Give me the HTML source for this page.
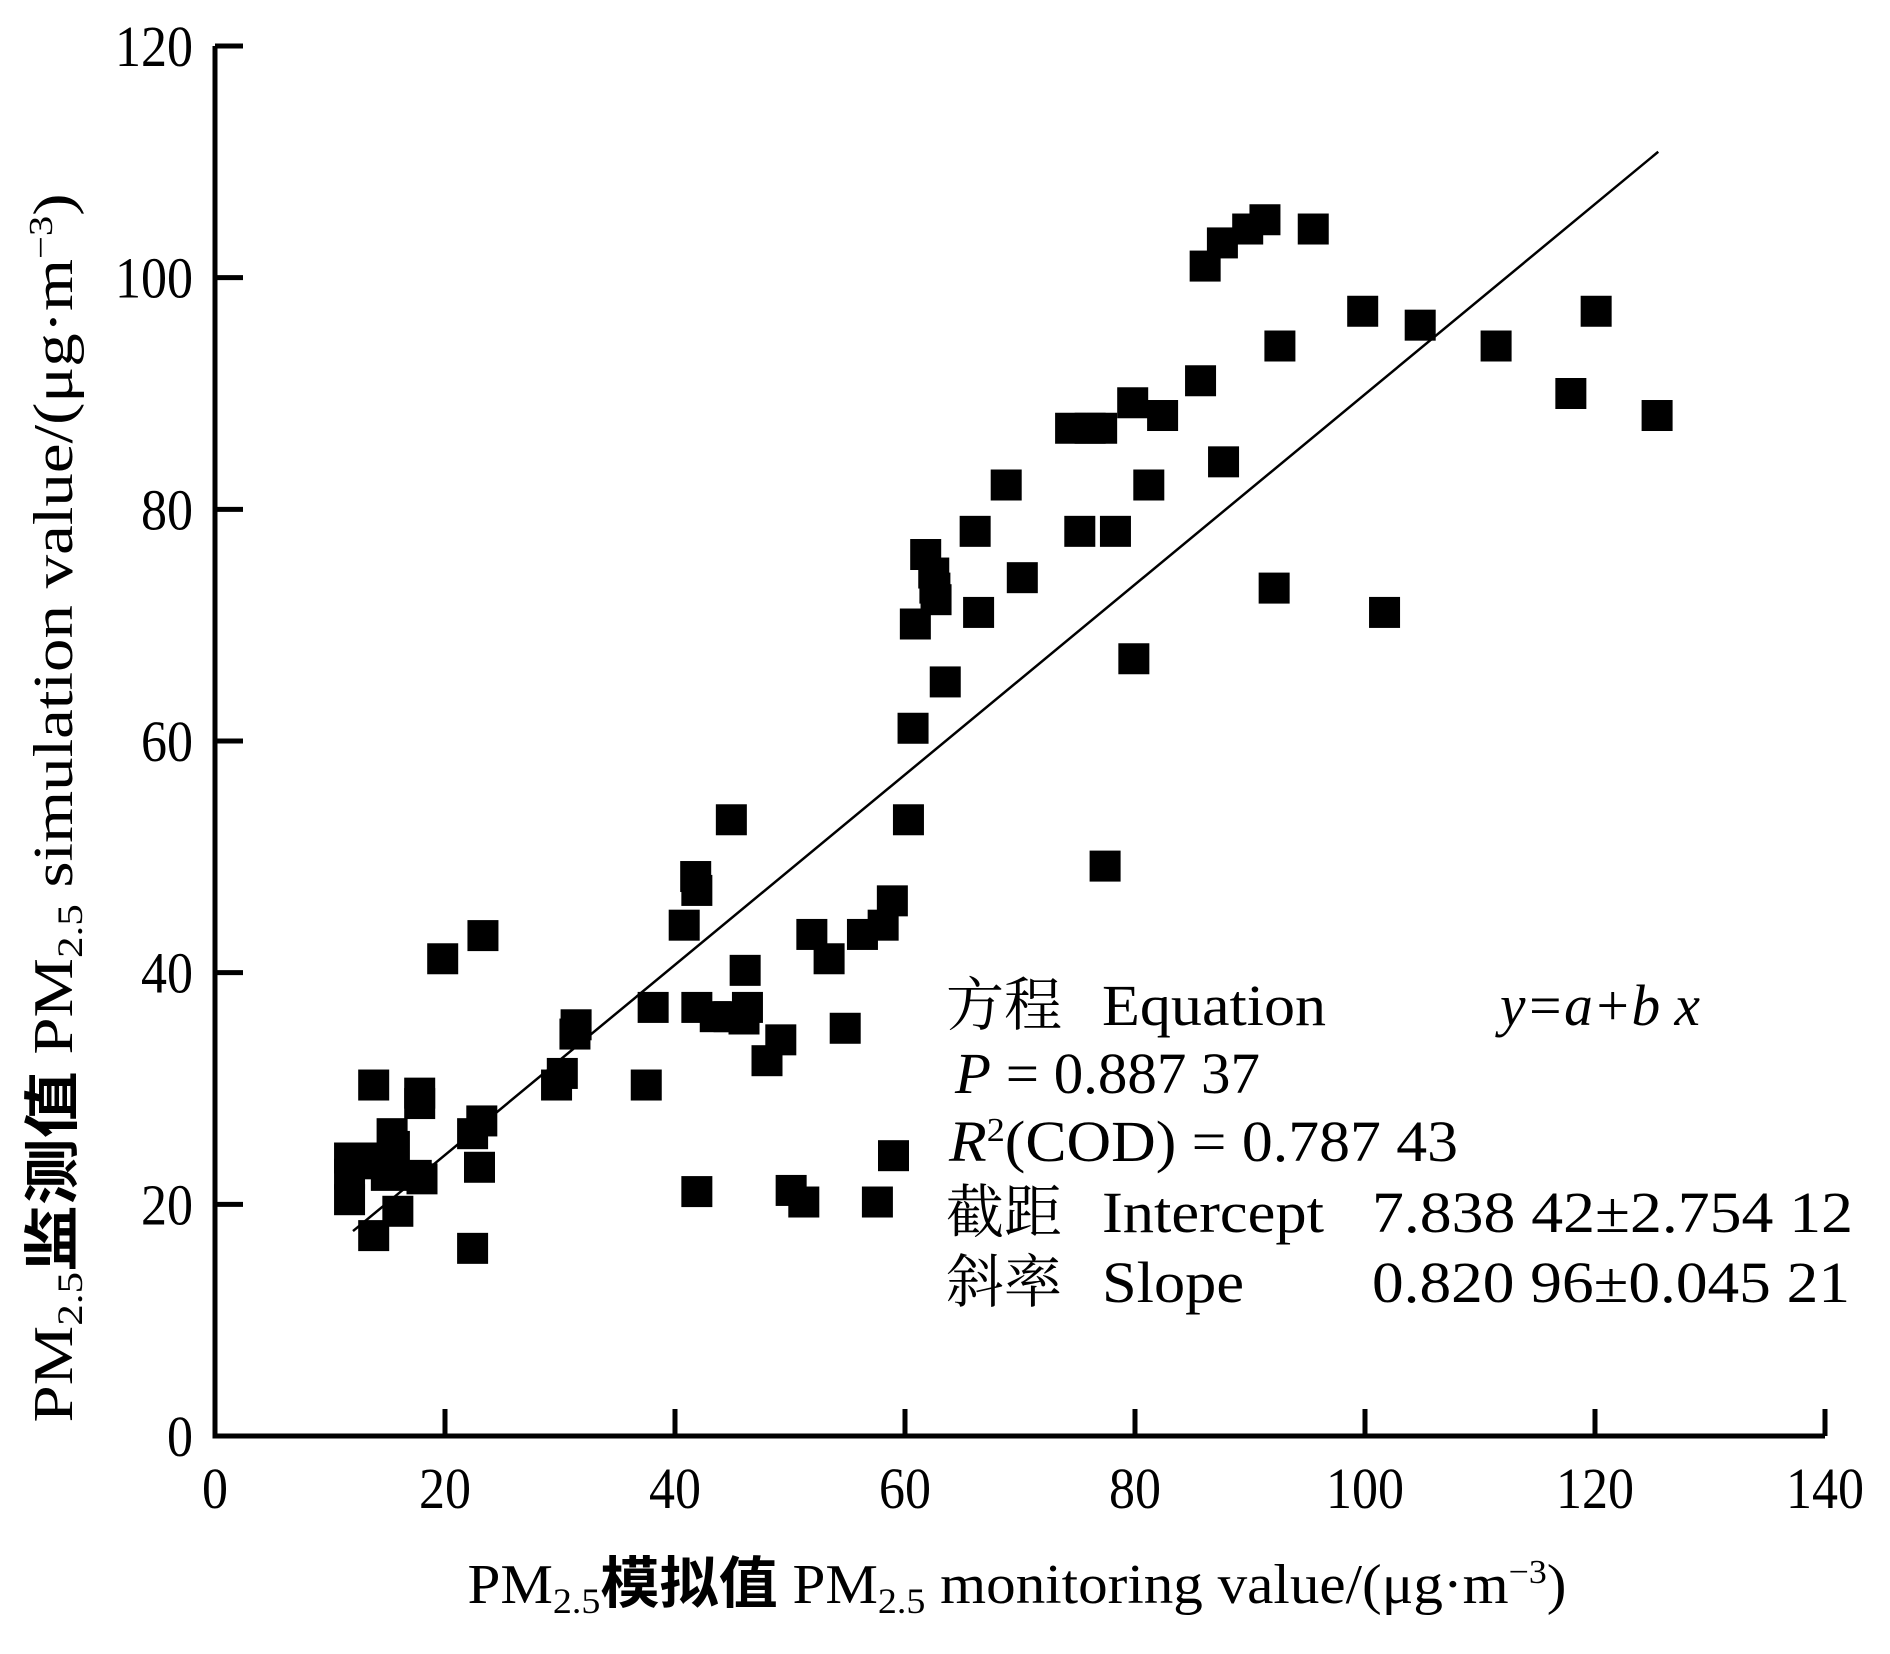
<!DOCTYPE html>
<html><head><meta charset="utf-8"><style>
html,body{margin:0;padding:0;background:#fff;}
svg{display:block;font-family:"Liberation Serif","Noto Serif CJK SC",serif;}
</style></head><body>
<svg id="chart" width="1890" height="1654" viewBox="0 0 1890 1654" xmlns="http://www.w3.org/2000/svg">
<g id="axes"></g>
<g id="points"></g>
<g id="fit"></g>
<g transform="translate(72,808) rotate(-90)">
<text x="0" y="0" text-anchor="middle" font-size="56" textLength="1229" lengthAdjust="spacingAndGlyphs">PM<tspan font-size="36" dy="10">2.5</tspan><tspan dy="-10" font-family="Noto Sans CJK SC, sans-serif" font-weight="bold">监测值</tspan>  PM<tspan font-size="36" dy="10">2.5</tspan><tspan dy="-10"> simulation value/(μg·m</tspan><tspan font-size="34" dy="-20">−3</tspan><tspan dy="20">)</tspan></text>
</g>
<g>
<text x="1017" y="1603" text-anchor="middle" font-size="56" textLength="1099" lengthAdjust="spacingAndGlyphs">PM<tspan font-size="36" dy="10">2.5</tspan><tspan dy="-10" font-family="Noto Sans CJK SC, sans-serif" font-weight="bold">模拟值</tspan>  PM<tspan font-size="36" dy="10">2.5</tspan><tspan dy="-10"> monitoring value/(μg·m</tspan><tspan font-size="34" dy="-20">−3</tspan><tspan dy="20">)</tspan></text>
</g>
<g font-size="58">
<text x="946" y="1025" font-family="Noto Serif CJK SC, serif">方程</text>
<text x="1102" y="1025" textLength="224" lengthAdjust="spacingAndGlyphs">Equation</text>
<text x="1500" y="1025" font-style="italic" textLength="200" lengthAdjust="spacingAndGlyphs">y=a+b x</text>
<text x="955" y="1093" textLength="305" lengthAdjust="spacingAndGlyphs"><tspan font-style="italic">P</tspan> = 0.887 37</text>
<text x="949" y="1161" textLength="509" lengthAdjust="spacingAndGlyphs"><tspan font-style="italic">R</tspan><tspan font-size="34" dy="-20">2</tspan><tspan dy="20">(COD) = 0.787 43</tspan></text>
<text x="946" y="1232" font-family="Noto Serif CJK SC, serif">截距</text>
<text x="1102" y="1232" textLength="222" lengthAdjust="spacingAndGlyphs">Intercept</text>
<text x="1372" y="1232" textLength="481" lengthAdjust="spacingAndGlyphs">7.838 42±2.754 12</text>
<text x="946" y="1302" font-family="Noto Serif CJK SC, serif">斜率</text>
<text x="1102" y="1302" textLength="142" lengthAdjust="spacingAndGlyphs">Slope</text>
<text x="1372" y="1302" textLength="478" lengthAdjust="spacingAndGlyphs">0.820 96±0.045 21</text>
</g>
</svg>
<script>
const xTicks=[0,20,40,60,80,100,120,140];
const yTicks=[0,20,40,60,80,100,120];
const obsX=[11.7,11.7,11.7,12.4,13.8,13.8,13.3,14.9,15.4,15.6,15.9,14.9,17.5,17.8,17.8,18.0,19.8,23.3,22.4,23.2,23.0,22.4,29.7,30.2,31.3,31.4,37.5,38.1,40.8,41.8,41.9,41.9,41.9,43.5,44.7,44.9,46.1,46.3,46.0,48.0,49.2,50.1,51.2,51.9,53.4,54.8,56.3,57.6,58.1,58.9,59.0,60.3,60.7,60.9,61.8,62.5,62.6,62.7,63.5,66.1,66.4,68.8,70.2,74.4,75.2,76.1,77.1,77.4,78.3,79.8,79.9,81.2,82.4,85.7,86.1,87.6,87.7,89.8,91.3,92.1,92.6,95.5,99.8,101.7,104.8,111.4,117.9,120.1,125.4];
const obsY=[24.0,22.6,20.4,23.5,30.3,17.3,24.0,23.5,26.1,25.0,19.4,22.5,22.5,28.7,29.6,22.2,41.2,43.2,26.1,27.2,23.2,16.2,30.3,31.3,34.7,35.5,30.3,37.0,44.1,48.3,47.1,37.0,21.1,36.2,36.2,53.2,40.2,37.0,36.0,32.4,34.2,21.2,20.2,43.3,41.2,35.2,43.3,20.2,44.1,46.2,24.2,53.2,61.1,70.1,76.1,74.5,73.2,72.2,65.1,78.1,71.1,82.1,74.1,87.0,78.1,87.0,87.0,49.2,78.1,89.2,67.1,82.1,88.1,91.1,101.0,103.0,84.1,104.2,105.0,73.2,94.1,104.2,97.1,71.1,95.9,94.1,90.0,97.1,88.1];
const intercept=7.83842, slope=0.82096;
const fitRange=[12,125.5];

const NS='http://www.w3.org/2000/svg';
const X0=215,X1=1825,Y0=1436,Y1=46;
const sx=v=>X0+(v-0)/140*(X1-X0);
const sy=v=>Y0-(v-0)/120*(Y0-Y1);
function mk(tag,attrs,parent){const e=document.createElementNS(NS,tag);for(const k in attrs)e.setAttribute(k,attrs[k]);parent.appendChild(e);return e;}
const axes=document.getElementById('axes');
let a=mk('path',{d:`M${X0} ${Y1} V${Y0} H${X1}`,fill:'none',stroke:'#000','stroke-width':5,'stroke-linejoin':'miter'},axes);


xTicks.forEach(t=>{
  const l=mk('line',{x1:sx(t),x2:sx(t),y1:Y0,y2:Y0-27,stroke:'#000','stroke-width':5},axes);
  
  
  const s=String(t);
  const tx=mk('text',{x:sx(t),y:Y0+72,'text-anchor':'middle','font-size':58,textLength:s.length*26,lengthAdjust:'spacingAndGlyphs'},axes);
  tx.textContent=s;
  
  
});
yTicks.forEach(t=>{
  const l=mk('line',{x1:X0,x2:X0+28,y1:sy(t),y2:sy(t),stroke:'#000','stroke-width':5},axes);
  
  
  const s=String(t);
  const tx=mk('text',{x:193,y:sy(t)+20,'text-anchor':'end','font-size':58,textLength:s.length*26,lengthAdjust:'spacingAndGlyphs'},axes);
  tx.textContent=s;
  
  
});
const pts=document.getElementById('points');
const S=31;
obsX.forEach((v,i)=>{
  const r=mk('rect',{x:sx(v)-S/2,y:sy(obsY[i])-S/2,width:S,height:S,fill:'#000'},pts);
  
  
});
const fit=document.getElementById('fit');
const fl=mk('line',{x1:sx(fitRange[0]),y1:sy(intercept+slope*fitRange[0]),x2:sx(fitRange[1]),y2:sy(intercept+slope*fitRange[1]),stroke:'#000','stroke-width':2.5},fit);


</script>
</body></html>
